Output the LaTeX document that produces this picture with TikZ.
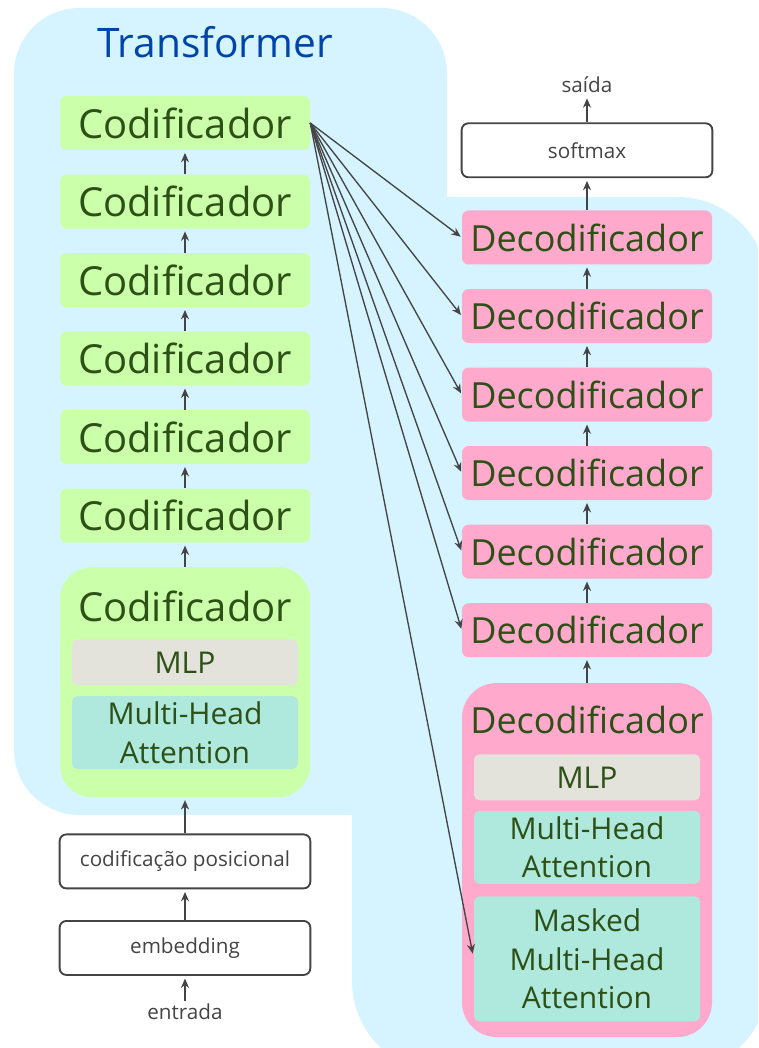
\documentclass[tikz,border=0pt]{standalone}
\usepackage{fontspec}
\setmainfont{Open Sans}
\usetikzlibrary{positioning}
\usetikzlibrary{arrows.meta}

\definecolor{bgblue}{HTML}{D5F4FF}
\definecolor{encgreen}{HTML}{CCFFAA}
\definecolor{decpink}{HTML}{FFAACC}
\definecolor{mlpgray}{HTML}{E3E3DB}
\definecolor{attteal}{HTML}{AFE8DD}
\definecolor{txtgreen}{HTML}{2D5016}
\definecolor{titleblue}{HTML}{0044AA}
\definecolor{linegray}{HTML}{444444}

\begin{document}
\begin{tikzpicture}[x=0.75pt,y=-0.75pt,
    node distance=18pt,
    enc/.style={fill=encgreen, text=txtgreen, rounded corners=5pt, inner sep=0pt,
      minimum width=187.5pt, minimum height=40.5pt, font=\fontsize{30}{36}\selectfont},
    dec/.style={enc, fill=decpink, font=\fontsize{27}{32}\selectfont},
    sub/.style={rounded corners=4pt, text=txtgreen, inner sep=0pt, align=center,
      minimum width=169.5pt, font=\fontsize{22.5}{29}\selectfont},
    io/.style={draw=linegray, line width=1.4pt, rounded corners=5pt, fill=white,
      text=linegray, minimum width=188pt, minimum height=40.5pt,
      font=\fontsize{15.5}{19}\selectfont},
    lbl/.style={text=linegray, inner sep=2pt, font=\fontsize{15.5}{19}\selectfont},
    arr/.style={draw=linegray, line width=1pt, shorten >=2pt,
      -{Stealth[length=7pt,width=6pt]}}
  ]
  \useasboundingbox (0,0) rectangle (758,1048);

  % background of the model
  \begin{scope}
    \clip (0,0) rectangle (758,1048);
    \fill[bgblue, rounded corners=49pt] (14,8) rectangle (447,815);
    \fill[bgblue, rounded corners=68pt] (352,197) rectangle (768,1072);
  \end{scope}

  \node[font=\fontsize{30.5}{36}\selectfont, text=titleblue] (title) at (215,42) {Transformer};

  % encoder stack
  \node[enc] (c1) at (185,123) {Codificador};
  \node[enc, below=of c1] (c2) {Codificador};
  \node[enc, below=of c2] (c3) {Codificador};
  \node[enc, below=of c3] (c4) {Codificador};
  \node[enc, below=of c4] (c5) {Codificador};
  \node[enc, below=of c5] (c6) {Codificador};
  \node[enc, rounded corners=24pt, minimum height=172.5pt, below=of c6] (c7) {};
  \node[enc, fill=none] (c7name) at ([yshift=-29.25pt]c7.north) {Codificador};
  \node[sub, fill=mlpgray, minimum height=34.5pt, below=4.5pt of c7name] (cmlp) {MLP};
  \node[sub, fill=attteal, minimum height=54.75pt, below=7.5pt of cmlp] (catt) {Multi-Head\\Attention};

  % input side
  \node[io, below=27pt of c7] (pos) {codificação posicional};
  \node[io, below=23pt of pos] (emb) {embedding};
  \node[lbl, below=19pt of emb] (in) {entrada};

  % decoder stack
  \node[dec] (d1) at (587,237.5) {Decodificador};
  \node[dec, below=of d1] (d2) {Decodificador};
  \node[dec, below=of d2] (d3) {Decodificador};
  \node[dec, below=of d3] (d4) {Decodificador};
  \node[dec, below=of d4] (d5) {Decodificador};
  \node[dec, below=of d5] (d6) {Decodificador};
  \node[dec, rounded corners=26pt, minimum height=265.5pt, below=19pt of d6] (d7) {};
  \node[dec, fill=none] (d7name) at ([yshift=-28pt]d7.north) {Decodificador};
  \node[sub, fill=mlpgray, minimum height=34.5pt, below=5pt of d7name] (dmlp) {MLP};
  \node[sub, fill=attteal, minimum height=54.75pt, below=7.5pt of dmlp] (datt) {Multi-Head\\Attention};
  \node[sub, fill=attteal, minimum height=93.75pt, below=9pt of datt] (dmask) {Masked\\Multi-Head\\Attention};

  % output side
  \node[io, above=24pt of d1] (soft) {softmax};
  \node[lbl, above=20pt of soft] (out) {saída};

  % connections
  \draw[arr] (in) -- (emb);
  \draw[arr] (emb) -- (pos);
  \draw[arr] (pos) -- (c7);
  \draw[arr] (c7) -- (c6);
  \draw[arr] (c6) -- (c5);
  \draw[arr] (c5) -- (c4);
  \draw[arr] (c4) -- (c3);
  \draw[arr] (c3) -- (c2);
  \draw[arr] (c2) -- (c1);

  \draw[arr] (d7) -- (d6);
  \draw[arr] (d6) -- (d5);
  \draw[arr] (d5) -- (d4);
  \draw[arr] (d4) -- (d3);
  \draw[arr] (d3) -- (d2);
  \draw[arr] (d2) -- (d1);
  \draw[arr] (d1) -- (soft);
  \draw[arr] (soft) -- (out);

  % encoder output fed to every decoder
  \foreach \d in {d1,d2,d3,d4,d5,d6}
    \draw[arr, shorten >=1pt] (c1.east) -- (\d.west);
  \draw[arr, shorten >=4pt] (c1.east) -- (dmask.west);
\end{tikzpicture}
\end{document}
